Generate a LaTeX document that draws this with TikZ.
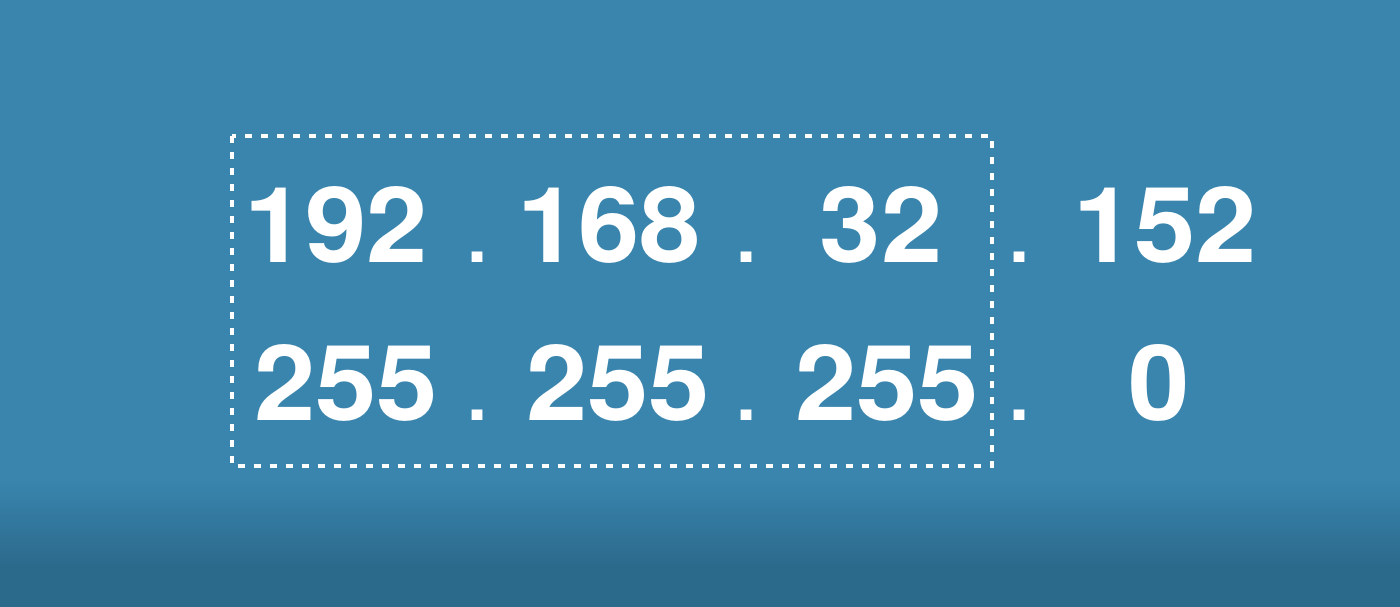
\documentclass[tikz,border=0pt]{standalone}
\usepackage{fontspec}
\setmainfont{TeX Gyre Heros}
\newfontfamily\numfont[FakeStretch=1.05]{TeX Gyre Heros}
\definecolor{bgtop}{HTML}{3985AE}
\definecolor{bgbot}{HTML}{2C6A8C}
\tikzset{
  num/.style={text=white, font=\numfont\bfseries\fontsize{105}{105}\selectfont, anchor=base, inner sep=0pt},
  sep/.style={text=white, font=\bfseries\fontsize{72}{72}\selectfont, anchor=base, inner sep=0pt},
  netbox/.style={draw=white, line width=4pt, dash pattern=on 7pt off 9pt}
}
\begin{document}
\begin{tikzpicture}[x=1pt,y=-1pt]
\useasboundingbox (0,0) rectangle (1400,607);
\fill[bgtop] (0,0) rectangle (1400,480);
\shade[top color=bgtop, bottom color=bgbot] (0,479) rectangle (1400,565);
\fill[bgbot] (0,564) rectangle (1400,607);
% row 1
\node[num] (a1) at (336,262) {192};
\node[sep] (d1) at (478,262) {.};
\node[num] (a2) at (609,262) {168};
\node[sep] (d2) at (746,262) {.};
\node[num] (a3) at (881,262) {32};
\node[sep] (d3) at (1019,262) {.};
\node[num] (a4) at (1165,262) {152};
% row 2
\node[num] (b1) at (346,420) {255};
\node[sep] (e1) at (478,420) {.};
\node[num] (b2) at (618,420) {255};
\node[sep] (e2) at (746,420) {.};
\node[num] (b3) at (887,420) {255};
\node[sep] (e3) at (1019,420) {.};
\node[num] (b4) at (1159,420) {0};
% dotted box
\coordinate (tl) at (232,136);
\coordinate (br) at (992,466);
\draw[netbox] (tl) rectangle (br);
\end{tikzpicture}
\end{document}
